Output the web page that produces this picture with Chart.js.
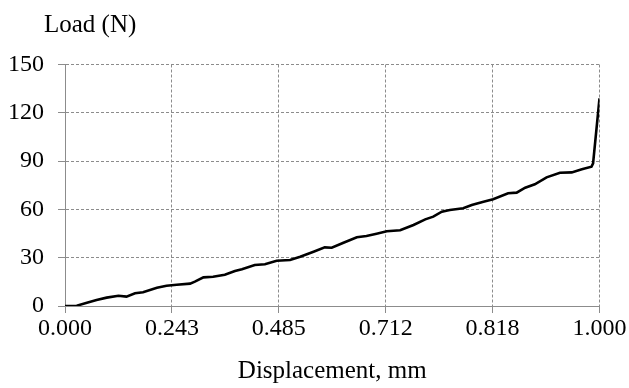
<!DOCTYPE html>
<html>
<head>
<meta charset="utf-8">
<script src="https://cdn.jsdelivr.net/npm/chart.js@4"></script>
<style>
  body { margin: 0; background: #fff; }
  #wrap { width: 629px; height: 388px; }
</style>
</head>
<body>
<div id="wrap"><canvas id="loadChart"></canvas></div>
<script>
// tick labels along the displacement axis (equally spaced on the chart)
const xTickLabels = ['0.000', '0.243', '0.485', '0.712', '0.818', '1.000'];

// position along the axis (0 = first tick, 1 = last tick)
const xPos = [0.000, 0.022, 0.041, 0.059, 0.078, 0.100, 0.115, 0.131, 0.146, 0.172,
              0.190, 0.209, 0.234, 0.243, 0.259, 0.277, 0.299, 0.318, 0.331, 0.355,
              0.374, 0.396, 0.421, 0.440, 0.465, 0.486, 0.499, 0.521, 0.546, 0.564,
              0.583, 0.602, 0.627, 0.652, 0.674, 0.689, 0.705, 0.720, 0.745, 0.761,
              0.783, 0.801, 0.829, 0.845, 0.861, 0.879, 0.901, 0.926, 0.948, 0.967,
              0.985, 0.988, 1.000];

// load in N
const loadN = [0.0, 0.2, 2.0, 3.7, 5.2, 6.4, 5.8, 7.9, 8.5, 11.4,
               12.6, 13.2, 13.9, 15.1, 17.8, 18.2, 19.4, 21.7, 22.8, 25.5,
               25.9, 28.1, 28.6, 30.6, 33.7, 36.4, 36.2, 39.3, 42.7, 43.5,
               44.9, 46.4, 47.0, 50.3, 53.8, 55.5, 58.6, 59.6, 60.7, 62.7,
               64.8, 66.3, 70.0, 70.4, 73.5, 75.6, 79.9, 82.8, 83.0, 84.9,
               86.5, 88.6, 129.0];

const yTicks = [0, 30, 60, 90, 120, 150];

const serif = "'Liberation Serif', 'Times New Roman', serif";
const gridColor = '#8c8c8c';

const points = xPos.map((x, i) => ({ x: x, y: loadN[i] }));

// "Load (N)" label above the y axis
const yLabelPlugin = {
    id: 'yLabel',
    afterDraw(chart) {
        const c = chart.ctx;
        c.save();
        c.font = '25px ' + serif;
        c.fillStyle = '#000';
        c.textAlign = 'left';
        c.textBaseline = 'alphabetic';
        c.fillText('Load (N)', chart.chartArea.left - 21, 32);
        c.restore();
    }
};

const ctx = document.getElementById('loadChart').getContext('2d');
const loadChart = new Chart(ctx, {
    type: 'line',
    data: {
        datasets: [{
            label: 'Load',
            data: points,
            borderColor: '#000',
            borderWidth: 2.6,
            pointRadius: 0,
            tension: 0,
            fill: false
        }]
    },
    options: {
        responsive: true,
        maintainAspectRatio: false,
        animation: false,
        layout: {
            padding: { top: 64.5, right: 29.5, bottom: 0, left: 0 }
        },
        plugins: {
            legend: { display: false },
            tooltip: { enabled: false }
        },
        scales: {
            x: {
                type: 'linear',
                min: 0,
                max: 1,
                afterFit(scale) { scale.height = 82; },
                afterBuildTicks(scale) {
                    scale.ticks = xTickLabels.map((l, i) => ({ value: i / (xTickLabels.length - 1) }));
                },
                ticks: {
                    autoSkip: false,
                    maxRotation: 0,
                    padding: 1,
                    color: '#000',
                    font: { family: serif, size: 24 },
                    callback: (v, i) => xTickLabels[i]
                },
                grid: { color: gridColor, lineWidth: 1, tickLength: 7 },
                border: { display: true, color: gridColor, width: 1, dash: [3, 2] },
                title: {
                    display: true,
                    text: 'Displacement, mm',
                    color: '#000',
                    font: { family: serif, size: 25 },
                    padding: { top: 0, bottom: 2 }
                }
            },
            y: {
                min: 0,
                max: 150,
                afterFit(scale) { scale.width = 65; },
                afterBuildTicks(scale) {
                    scale.ticks = yTicks.map(v => ({ value: v }));
                },
                ticks: {
                    padding: 14,
                    color: '#000',
                    font: { family: serif, size: 24 }
                },
                grid: { color: gridColor, lineWidth: 1, tickLength: 7 },
                border: { display: true, color: gridColor, width: 1, dash: [3, 2] }
            }
        }
    },
    plugins: [yLabelPlugin]
});
</script>
</body>
</html>
